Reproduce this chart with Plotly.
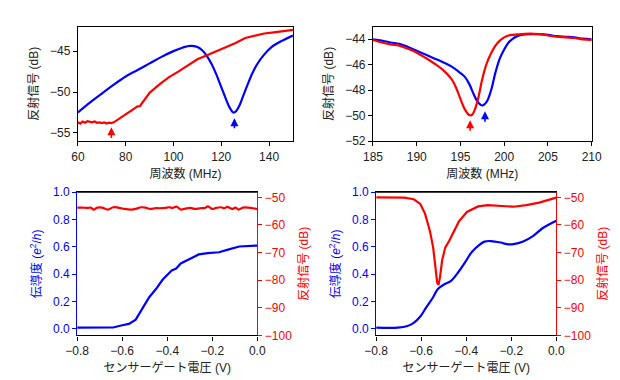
import plotly.graph_objects as go

# ---------------- Data ----------------
# Panel 1 (top-left): reflection vs frequency
f1_blue = [60, 65, 70, 75, 80, 85, 90, 95, 100, 104, 107, 110, 112, 114, 116, 118, 120, 122, 123.5, 125,
           126, 127.5, 129, 131, 133, 135, 138, 141, 145, 150]
r1_blue = [-52.5, -51.3, -50.2, -49.1, -48.1, -47.3, -46.5, -45.7, -45.0, -44.55, -44.35, -44.5, -44.9, -45.6,
           -46.6, -47.9, -49.4, -50.9, -51.9, -52.5, -52.4, -51.7, -50.6, -49.1, -47.7, -46.6, -45.4, -44.5,
           -43.8, -43.1]
f1_red = [60, 61, 62, 63, 64, 65, 66, 67, 68, 69, 70, 71, 72, 73, 74, 75, 76, 78, 80, 82, 84, 85, 86, 88, 90,
          94, 98, 102, 106, 110, 114, 118, 122, 126, 130, 134, 138, 142, 146, 150]
r1_red = [-53.7, -53.85, -53.6, -53.75, -53.55, -53.65, -53.7, -53.6, -53.75, -53.7, -53.8, -53.7, -53.85,
          -53.75, -53.8, -53.7, -53.5, -53.1, -52.7, -52.3, -51.85, -51.75, -51.7, -50.9, -50.1, -49.1, -48.2,
          -47.5, -46.75, -46.0, -45.5, -45.0, -44.5, -44.0, -43.4, -43.1, -42.85, -42.7, -42.55, -42.4]
arrows1 = [(74, -55.8, -54.3, "red"), (125.5, -54.6, -53.2, "blue")]

# Panel 2 (top-right)
f2_blue = [185, 186, 187, 188, 189, 190, 191, 192, 193, 194, 195, 195.5, 196, 196.5, 197, 197.5, 198, 198.5,
           199, 199.5, 200, 200.5, 201, 201.5, 202, 203, 204, 205, 206, 207, 208, 209, 210]
r2_blue = [-44.0, -44.1, -44.25, -44.35, -44.6, -44.9, -45.2, -45.5, -45.8, -46.15, -46.65, -46.95, -47.5,
           -48.3, -48.95, -49.2, -48.9, -48.0, -46.6, -45.5, -44.8, -44.25, -43.95, -43.75, -43.65, -43.6,
           -43.6, -43.65, -43.75, -43.8, -43.85, -43.95, -44.0]
f2_red = [185, 186, 187, 188, 189, 190, 191, 192, 193, 194, 194.5, 195, 195.5, 196, 196.3, 196.6, 197, 197.5,
          198, 198.5, 199, 199.5, 200, 200.5, 201, 202, 203, 204, 205, 206, 207, 208, 209, 210]
r2_red = [-44.05, -44.25, -44.4, -44.5, -44.75, -45.05, -45.45, -45.9, -46.4, -47.15, -47.8, -48.7, -49.5,
          -49.95, -49.95, -49.6, -48.7, -47.1, -45.9, -45.1, -44.5, -44.1, -43.85, -43.7, -43.65, -43.6,
          -43.55, -43.6, -43.7, -43.8, -43.85, -43.9, -44.0, -44.05]
arrows2 = [(196.1, -51.3, -50.35, "red"), (197.8, -50.6, -49.65, "blue")]

# Panel 3 (bottom-left): conductance + reflection vs gate voltage
v3_g = [-0.8, -0.7, -0.64, -0.6, -0.57, -0.54, -0.51, -0.48, -0.45, -0.42, -0.38, -0.36, -0.34, -0.3,
        -0.26, -0.22, -0.17, -0.13, -0.08, 0.0]
g3 = [0.007, 0.007, 0.008, 0.025, 0.035, 0.066, 0.148, 0.23, 0.29, 0.36, 0.426, 0.44, 0.478, 0.51, 0.544,
      0.553, 0.56, 0.579, 0.602, 0.609]
v3_r = [-0.8, -0.776, -0.754, -0.74, -0.726, -0.711, -0.69, -0.664, -0.64, -0.619, -0.59, -0.561, -0.54,
        -0.516, -0.497, -0.476, -0.454, -0.433, -0.411, -0.39, -0.376, -0.359, -0.34, -0.319, -0.297, -0.279,
        -0.254, -0.233, -0.219, -0.201, -0.183, -0.161, -0.147, -0.133, -0.111, -0.097, -0.083, -0.064,
        -0.04, -0.019, 0.0]
r3 = [-53.72, -53.72, -53.84, -53.72, -54.42, -53.72, -53.72, -54.42, -53.6, -53.72, -54.19, -54.42, -54.19,
      -53.6, -53.72, -54.19, -53.95, -53.95, -53.84, -53.6, -53.84, -53.37, -54.42, -54.07, -53.84, -54.19,
      -53.95, -53.84, -53.26, -54.19, -53.84, -53.6, -53.95, -53.49, -54.19, -53.72, -54.42, -53.72, -53.72,
      -53.95, -54.3]

# Panel 4 (bottom-right)
v4_g = [-0.8, -0.704, -0.661, -0.633, -0.604, -0.576, -0.547, -0.526, -0.497, -0.469, -0.433, -0.404, -0.376,
        -0.347, -0.319, -0.29, -0.247, -0.219, -0.19, -0.147, -0.104, -0.061, 0.0]
g4 = [0.007, 0.007, 0.019, 0.042, 0.089, 0.16, 0.23, 0.29, 0.325, 0.348, 0.419, 0.489, 0.56, 0.607, 0.638,
      0.642, 0.631, 0.619, 0.619, 0.638, 0.678, 0.736, 0.791]
v4_r = [-0.8, -0.676, -0.633, -0.604, -0.583, -0.561, -0.547, -0.537, -0.529, -0.523, -0.516, -0.507, -0.493,
        -0.476, -0.461, -0.433, -0.397, -0.347, -0.304, -0.247, -0.19, -0.133, -0.076, 0.0]
r4 = [-50.0, -50.1, -50.7, -52.4, -55.9, -62.3, -68.1, -74.5, -80.9, -81.7, -78.6, -72.8, -68.1, -65.8, -63.5,
      -58.8, -55.3, -53.3, -52.8, -53.0, -53.4, -52.8, -51.9, -50.1]

# Tick values
ticks1_x = [60, 80, 100, 120, 140]
ticks1_y = [-55, -50, -45]
ticks2_x = [185, 190, 195, 200, 205, 210]
ticks2_y = [-52, -50, -48, -46, -44]
ticks_v = [-0.8, -0.6, -0.4, -0.2, 0.0]
ticks_g = [0.0, 0.2, 0.4, 0.6, 0.8, 1.0]
ticks_db = [-100, -90, -80, -70, -60, -50]

# ---------------- Figure ----------------
BLUE = "#0000ff"
RED = "#ff0000"
FONT = "Liberation Sans, Arial, Noto Sans CJK JP"
LW = 2.2

fig = go.Figure()
fig.add_trace(go.Scatter(x=f1_blue, y=r1_blue, mode="lines", line=dict(color=BLUE, width=LW, shape="spline"),
                         xaxis="x", yaxis="y"))
fig.add_trace(go.Scatter(x=f1_red, y=r1_red, mode="lines", line=dict(color=RED, width=LW),
                         xaxis="x", yaxis="y"))
fig.add_trace(go.Scatter(x=f2_blue, y=r2_blue, mode="lines", line=dict(color=BLUE, width=LW, shape="spline"),
                         xaxis="x2", yaxis="y2"))
fig.add_trace(go.Scatter(x=f2_red, y=r2_red, mode="lines", line=dict(color=RED, width=LW, shape="spline"),
                         xaxis="x2", yaxis="y2"))
fig.add_trace(go.Scatter(x=v3_g, y=g3, mode="lines", line=dict(color=BLUE, width=LW),
                         xaxis="x3", yaxis="y3"))
fig.add_trace(go.Scatter(x=v3_r, y=r3, mode="lines", line=dict(color=RED, width=LW, shape="spline"),
                         xaxis="x3", yaxis="y5"))
fig.add_trace(go.Scatter(x=v4_g, y=g4, mode="lines", line=dict(color=BLUE, width=LW, shape="spline"),
                         xaxis="x4", yaxis="y4"))
fig.add_trace(go.Scatter(x=v4_r, y=r4, mode="lines", line=dict(color=RED, width=LW),
                         xaxis="x4", yaxis="y6"))

tickfont = dict(family=FONT, size=12, color="#222")
titlefont = dict(family=FONT, size=12, color="#222")


def xa(domain, rng, tv, anchor, title, fmt=None):
    d = dict(domain=domain, range=rng, tickvals=tv, anchor=anchor, showgrid=False, zeroline=False,
             showline=True, linecolor="black", linewidth=1.2, mirror=True, ticks="outside", ticklen=4,
             tickcolor="black", tickfont=tickfont,
             title=dict(text=title, font=titlefont, standoff=6))
    if fmt:
        d["tickformat"] = fmt
    return d


def ya(domain, rng, tv, anchor, title, color="black", side="left", mirror=True, overlaying=None, fmt=None,
       tcolor="#222"):
    d = dict(domain=domain, range=rng, tickvals=tv, anchor=anchor, showgrid=False, zeroline=False,
             showline=True, linecolor=color, linewidth=1.2, mirror=mirror, ticks="outside", ticklen=4,
             tickcolor=color, side=side, tickfont=dict(family=FONT, size=12, color=tcolor),
             title=dict(text=title, font=dict(family=FONT, size=12, color=tcolor), standoff=8))
    if overlaying:
        d["overlaying"] = overlaying
    if fmt:
        d["tickformat"] = fmt
    return d


dom1x = [0.0968, 0.4565]
dom2x = [0.5903, 0.9560]
domTy = [0.6553, 0.9684]
dom3x = [0.0956, 0.3968]
dom4x = [0.5956, 0.8968]
domBy = [0.1245, 0.5158]

fig.update_layout(
    width=620, height=380, margin=dict(l=0, r=0, t=0, b=0),
    paper_bgcolor="white", plot_bgcolor="white", showlegend=False,
    font=dict(family=FONT, size=12),
    xaxis=xa(dom1x, [60, 150], ticks1_x, "y", "周波数 (MHz)"),
    yaxis=ya(domTy, [-56, -42], ticks1_y, "x", "反射信号 (dB)"),
    xaxis2=xa(dom2x, [185, 210], ticks2_x, "y2", "周波数 (MHz)"),
    yaxis2=ya(domTy, [-52, -43], ticks2_y, "x2", "反射信号 (dB)"),
    xaxis3=xa(dom3x, [-0.8, 0.0], ticks_v, "y3", "センサーゲート電圧 (V)", fmt=".1f"),
    yaxis3=ya(domBy, [-0.05, 1.0], ticks_g, "x3", "伝導度 (<i>e</i><sup>2</sup>/<i>h</i>)", color=BLUE,
              mirror=False, fmt=".1f", tcolor=BLUE),
    yaxis5=ya(domBy, [-100, -48.15], ticks_db, "x3", "反射信号 (dB)", color=RED, side="right",
              mirror=False, overlaying="y3", tcolor=RED),
    xaxis4=xa(dom4x, [-0.8, 0.0], ticks_v, "y4", "センサーゲート電圧 (V)", fmt=".1f"),
    yaxis4=ya(domBy, [-0.05, 1.0], ticks_g, "x4", "伝導度 (<i>e</i><sup>2</sup>/<i>h</i>)", color=BLUE,
              mirror=False, fmt=".1f", tcolor=BLUE),
    yaxis6=ya(domBy, [-100, -48.15], ticks_db, "x4", "反射信号 (dB)", color=RED, side="right",
              mirror=False, overlaying="y4", tcolor=RED),
)

anns = []
for (x, tail, head, c) in arrows1:
    anns.append(dict(x=x, y=head, ax=x, ay=tail, xref="x", yref="y", axref="x", ayref="y", text="",
                     showarrow=True, arrowhead=2, arrowsize=1, arrowwidth=1.6, arrowcolor=c))
for (x, tail, head, c) in arrows2:
    anns.append(dict(x=x, y=head, ax=x, ay=tail, xref="x2", yref="y2", axref="x2", ayref="y2", text="",
                     showarrow=True, arrowhead=2, arrowsize=1, arrowwidth=1.6, arrowcolor=c))
fig.update_layout(annotations=anns)

# Top border lines for bottom panels (black top spine)
for xd in (dom3x, dom4x):
    fig.add_shape(type="line", xref="paper", yref="paper", x0=xd[0], x1=xd[1], y0=domBy[1], y1=domBy[1],
                  line=dict(color="black", width=1.2))

fig.write_html("out.html")
